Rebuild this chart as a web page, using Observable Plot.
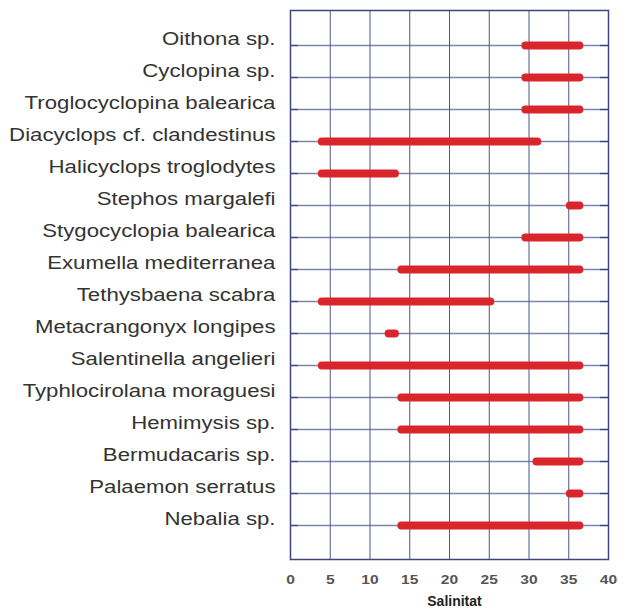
<!DOCTYPE html>
<html>
<head>
<meta charset="utf-8">
<script src="https://cdn.jsdelivr.net/npm/d3@7"></script>
<script src="https://cdn.jsdelivr.net/npm/@observablehq/plot@0.6"></script>
<style>
  html, body { margin: 0; padding: 0; background: #fff; }
</style>
</head>
<body>
<div id="chart"></div>
<script>
const species = [
  "Oithona sp.",
  "Cyclopina sp.",
  "Troglocyclopina balearica",
  "Diacyclops cf. clandestinus",
  "Halicyclops troglodytes",
  "Stephos margalefi",
  "Stygocyclopia balearica",
  "Exumella mediterranea",
  "Tethysbaena scabra",
  "Metacrangonyx longipes",
  "Salentinella angelieri",
  "Typhlocirolana moraguesi",
  "Hemimysis sp.",
  "Bermudacaris sp.",
  "Palaemon serratus",
  "Nebalia sp."
];
const lowValues  = [29.6, 29.6, 29.6, 4, 4, 35.2, 29.6, 14, 4, 12.4, 4, 14, 14, 31, 35.2, 14];
const highValues = [36.4, 36.4, 36.4, 31.1, 13.2, 36.4, 36.4, 36.4, 25.2, 13.2, 36.4, 36.4, 36.4, 36.4, 36.4, 36.4];
const xTicks = [0, 5, 10, 15, 20, 25, 30, 35, 40];
const axisTitle = "Salinitat";

const rows = species.map((s, i) => ({species: s, lo: lowValues[i], hi: highValues[i]}));
const font = "'Liberation Sans', Arial, Helvetica, sans-serif";

const chart = Plot.plot({
  width: 623,
  height: 613,
  marginLeft: 290,
  marginRight: 15,
  marginTop: 10,
  marginBottom: 54,
  style: {fontFamily: font, background: "#fff"},
  x: {domain: [0, 40], label: null},
  y: {type: "point", domain: species, padding: 1, label: null},
  marks: [
    Plot.ruleY(species, {y: d => d, x1: 0, x2: 40, stroke: "#7d84ad", strokeWidth: 1.3}),
    Plot.gridX({ticks: xTicks, stroke: "#4d5688", strokeOpacity: 1}),
    Plot.ruleY(species, {y: d => d, x1: 0, x2: 1, stroke: "#3f4679", strokeWidth: 1.3}),
    Plot.ruleY(species, {y: d => d, x1: 39, x2: 40, stroke: "#3f4679", strokeWidth: 1.3}),
    Plot.frame({stroke: "#3f4679", strokeWidth: 1.5}),
    Plot.ruleY(rows, {y: "species", x1: "lo", x2: "hi", stroke: "#d9262c", strokeWidth: 8, strokeLinecap: "round"}),
    Plot.axisY({tickSize: 0, tickPadding: 15, fontSize: 18.5, fill: "#333", dy: -6, label: null}),
    Plot.axisX({ticks: xTicks, tickSize: 0, tickPadding: 16, fontSize: 12, fontWeight: "bold", fill: "#555", label: null}),
    Plot.text([axisTitle], {frameAnchor: "bottom", text: d => d, dy: 46, dx: 5, fontSize: 14, fontWeight: "bold", fill: "#222", ariaLabel: "axis-title"})
  ]
});

document.getElementById("chart").appendChild(chart);

function stretch(selector, s, anchor) {
  chart.querySelectorAll(selector).forEach(t => {
    const b = t.getBBox();
    const ax = anchor === "end" ? b.x + b.width : b.x + b.width / 2;
    const tr = t.getAttribute("transform") || "";
    t.setAttribute("transform", `${tr} translate(${ax},0) scale(${s},1) translate(${-ax},0)`);
  });
}
stretch('g[aria-label="y-axis tick label"] text', 1.2, "end");
stretch('g[aria-label="x-axis tick label"] text', 1.3, "middle");
stretch('g[aria-label="axis-title"] text', 1.3, "middle");
</script>
</body>
</html>
